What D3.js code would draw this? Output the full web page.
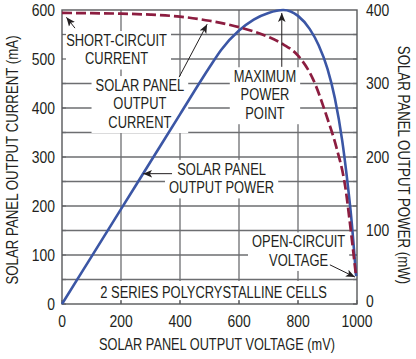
<!DOCTYPE html>
<html><head><meta charset="utf-8">
<script src="https://cdn.jsdelivr.net/npm/d3@7"></script>
<style>
html,body{margin:0;padding:0;background:#fff;}
svg{display:block;}
text{font-family:"Liberation Sans",Arial,sans-serif;fill:#231f20;}
</style></head>
<body>
<svg id="chart" width="416" height="359"></svg>
<script>
// ---- data ----
const voltageTicks = [0, 200, 400, 600, 800, 1000];
const currentTicks = [0, 100, 200, 300, 400, 500, 600];
const powerTicks = [0, 100, 200, 300, 400];
const currentV = [0, 100, 200, 300, 400, 500, 600, 700, 750, 800, 850, 900, 930, 960, 980, 997];
const currentI = [594, 593.5, 592.5, 590.5, 586.5, 578, 565, 545, 530, 507, 460, 378, 320, 240, 145, 55];
const powerV = [0, 100, 200, 300, 400, 500, 540, 600, 650, 700, 750, 800, 840, 870, 900, 925, 950, 965, 980, 997];
const powerP = [0, 64.5, 129, 193.5, 258, 322, 346, 372, 387, 396, 400, 392, 374, 352, 320, 280, 222, 175, 120, 38];
const labels = [
  {lines:["SHORT-CIRCUIT","CURRENT"], v:185, i:527},
  {lines:["SOLAR PANEL","OUTPUT","CURRENT"], v:264, i:435},
  {lines:["MAXIMUM","POWER","POINT"], v:688, i:453},
  {lines:["SOLAR PANEL","OUTPUT POWER"], v:541, i:264},
  {lines:["OPEN-CIRCUIT","VOLTAGE"], v:802, i:116}
];
const arrows = [
  {from:[44,563], to:[15,585]},
  {from:[397,463], to:[492,571]},
  {from:[745,484], to:[745,594]},
  {from:[373,266], to:[275,266]},
  {from:[908,80], to:[993,55]}
];
const footnote = {text:"2 SERIES POLYCRYSTALLINE CELLS", v:514, i:13};

// ---- layout ----
const L = 62, R = 357, T = 10, B = 304;
const svg = d3.select("#chart");
const x = d3.scaleLinear().domain([0, 1000]).range([L, R]);
const yI = d3.scaleLinear().domain([0, 600]).range([B, T]);
const yP = d3.scaleLinear().domain([0, 400]).range([B, T]);

const fs = 17, lh = 18.4, sq = 0.76;
const gridColor = "#6d6e71";

// condensed text helper (horizontal squeeze via transform)
function ctext(parent, px, py, lines, opts) {
  const o = Object.assign({anchor:"middle", size:fs, f:sq, rot:0}, opts || {});
  const grp = parent.append("g")
    .attr("transform", `translate(${px},${py}) rotate(${o.rot}) scale(${o.f},1)`);
  const t = grp.append("text").attr("text-anchor", o.anchor).attr("font-size", o.size);
  [].concat(lines).forEach((s, k) => {
    t.append("tspan").attr("x", 0).attr("y", k * lh).text(s);
  });
  return grp;
}

// grid
const g = svg.append("g");
const hGrid = d3.range(50, 600, 50);
g.selectAll(".hg").data(hGrid).join("line")
  .attr("x1", L).attr("x2", R).attr("y1", d => yI(d)).attr("y2", d => yI(d))
  .attr("stroke", gridColor).attr("stroke-width", 1.3);
g.selectAll(".vg").data(voltageTicks.slice(1, -1)).join("line")
  .attr("y1", T).attr("y2", B).attr("x1", d => x(d)).attr("x2", d => x(d))
  .attr("stroke", gridColor).attr("stroke-width", 1.3);

const boxLayer = svg.append("g");
const tk = svg.append("g");
const curveLayer = svg.append("g");
const textLayer = svg.append("g");

// labels with white boxes
labels.forEach(lb => {
  const grp = ctext(textLayer, x(lb.v), yI(lb.i), lb.lines);
  const bb = grp.node().getBBox();
  const w = bb.width * sq;
  boxLayer.append("rect")
    .attr("x", x(lb.v) - w / 2 - 4).attr("y", yI(lb.i) + bb.y + 1)
    .attr("width", w + 8).attr("height", bb.height + 1)
    .attr("fill", "#fff");
});
ctext(textLayer, x(footnote.v), yI(footnote.i), footnote.text);
boxLayer.append("rect").attr("x", L + 1).attr("width", R - L - 2)
  .attr("y", yI(50) + 1.5).attr("height", B - yI(50) - 5).attr("fill", "#fff");

// inward ticks + frame
hGrid.concat([0]).forEach(d => {
  tk.append("line").attr("x1", L).attr("x2", L + 4).attr("y1", yI(d)).attr("y2", yI(d)).attr("stroke", gridColor).attr("stroke-width", 1.3);
  tk.append("line").attr("x1", R - 4).attr("x2", R).attr("y1", yI(d)).attr("y2", yI(d)).attr("stroke", gridColor).attr("stroke-width", 1.3);
});
voltageTicks.forEach(d => {
  tk.append("line").attr("x1", x(d)).attr("x2", x(d)).attr("y1", B - 4).attr("y2", B).attr("stroke", gridColor).attr("stroke-width", 1.3);
});
tk.append("rect").attr("x", L).attr("y", T).attr("width", R - L).attr("height", B - T)
  .attr("fill", "none").attr("stroke", "#58595b").attr("stroke-width", 1.4);

// curves
const currentData = currentV.map((v, k) => [v, currentI[k]]);
const powerData = powerV.map((v, k) => [v, powerP[k]]);
curveLayer.append("path").datum(powerData)
  .attr("d", d3.line().x(d => x(d[0])).y(d => yP(d[1])).curve(d3.curveMonotoneX))
  .attr("fill", "none").attr("stroke", "#3b56a5").attr("stroke-width", 2.6);
curveLayer.append("path").datum(currentData)
  .attr("d", d3.line().x(d => x(d[0])).y(d => yI(d[1])).curve(d3.curveMonotoneX))
  .attr("fill", "none").attr("stroke", "#8c1d40").attr("stroke-width", 2.7)
  .attr("stroke-dasharray", "10,4");

// arrows
const defs = svg.append("defs");
defs.append("marker").attr("id", "ah").attr("viewBox", "0 0 10 10")
  .attr("refX", 10).attr("refY", 5).attr("markerWidth", 9).attr("markerHeight", 9)
  .attr("markerUnits", "userSpaceOnUse").attr("orient", "auto")
  .append("path").attr("d", "M0,0.8 L10,5 L0,9.2 L2.5,5 Z").attr("fill", "#231f20");
const al = svg.append("g");
arrows.forEach(a => {
  al.append("line")
    .attr("x1", x(a.from[0])).attr("y1", yI(a.from[1]))
    .attr("x2", x(a.to[0])).attr("y2", yI(a.to[1]))
    .attr("stroke", "#231f20").attr("stroke-width", 1)
    .attr("marker-end", "url(#ah)");
});

// axis tick labels and titles
const ax = svg.append("g");
currentTicks.forEach(d => ctext(ax, 55, yI(d) + 6, String(d), {anchor:"end", f:0.82}));
powerTicks.forEach(d => ctext(ax, 366, yP(d) + (d === 0 ? 3 : 5.5), String(d), {anchor:"start", f:0.82}));
voltageTicks.forEach(d => ctext(ax, x(d), 327, String(d), {f:0.82}));
ctext(ax, 217, 350, "SOLAR PANEL OUTPUT VOLTAGE (mV)", {f:0.75});
ctext(ax, 18, 160, "SOLAR PANEL OUTPUT CURRENT (mA)", {rot:-90, f:0.78});
ctext(ax, 398, 165, "SOLAR PANEL OUTPUT POWER (mW)", {rot:90, f:0.78});
</script>
</body></html>
